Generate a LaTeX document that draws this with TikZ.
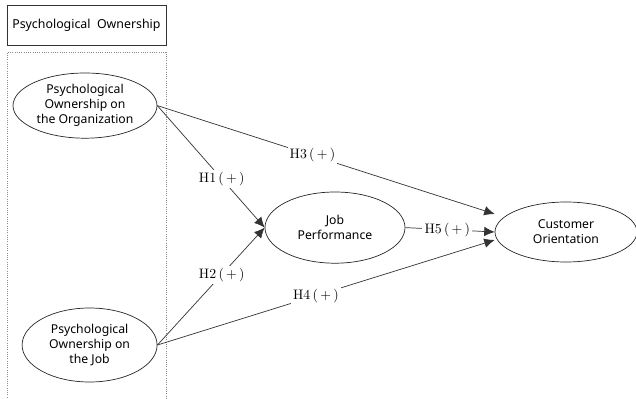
\documentclass[tikz,border=0pt]{standalone}
\usepackage{fontspec}
\setsansfont{Noto Sans}
\usetikzlibrary{shapes.geometric,arrows.meta}

\tikzset{
  construct/.style={draw=black!85, ellipse, line width=0.5pt, inner sep=0pt,
    align=center, font=\sffamily\fontsize{8.7}{10.8}\selectfont},
  path/.style={draw=black!80, line width=0.5pt},
  hyp/.style={fill=white, inner sep=1.5pt, font=\rmfamily\fontsize{9.8}{11}\selectfont}
}

\begin{document}
\begin{tikzpicture}
      \useasboundingbox (0, 0) rectangle (15.9, 9.95);

      \draw[black!80, line width=0.6pt] (0.175, 8.825) rectangle (4.15, 9.825);
      \node (title) at (2.16, 9.325) {\sffamily\fontsize{8.8}{10.8}\selectfont Psychological\ \ Ownership};
      \draw[black!45, densely dotted, line width=0.6pt] (0.175, -0.1) -- (0.175, 8.65) -- (4.15, 8.65) -- (4.15, -0.1);

      \node[construct, minimum width=3.6cm, minimum height=1.63cm] (org) at (2.125, 7.31)
        {Psychological\\Ownership on\\the Organization};
      \node[construct, minimum width=3.375cm, minimum height=1.85cm] (job) at (2.24, 1.325)
        {Psychological\\Ownership on\\the Job};
      \node[construct, minimum width=3.5cm, minimum height=1.78cm] (perf) at (8.375, 4.26)
        {Job\\Performance};
      \node[construct, minimum width=3.55cm, minimum height=1.5cm] (cust) at (14.15, 4.15)
        {Customer\\Orientation};

      \draw[path, -{Latex[length=2.6mm, width=2.4mm]}] (org.east) -- node[hyp, pos=0.6] {H1\,(\,+\,)} (perf.west);
      \draw[path, -{Latex[length=2.6mm, width=2.4mm]}] (job.east) -- node[hyp, pos=0.6] {H2\,(\,+\,)} (perf.west);
      \draw[path, -{Latex[length=2.6mm, width=2.4mm]}] (org.east) -- node[hyp, pos=0.46] {H3\,(\,+\,)} ([yshift=0.45cm]cust.west);
      \draw[path, -{Latex[length=2.6mm, width=2.4mm]}] (job.east) -- node[hyp, pos=0.47] {H4\,(\,+\,)} ([yshift=-0.2cm]cust.west);
      \draw[path, -{Latex[length=2.6mm, width=2.4mm]}] (perf.east) -- node[hyp, pos=0.47] {H5\,(\,+\,)} (cust.west);
    \end{tikzpicture}
\end{document}
